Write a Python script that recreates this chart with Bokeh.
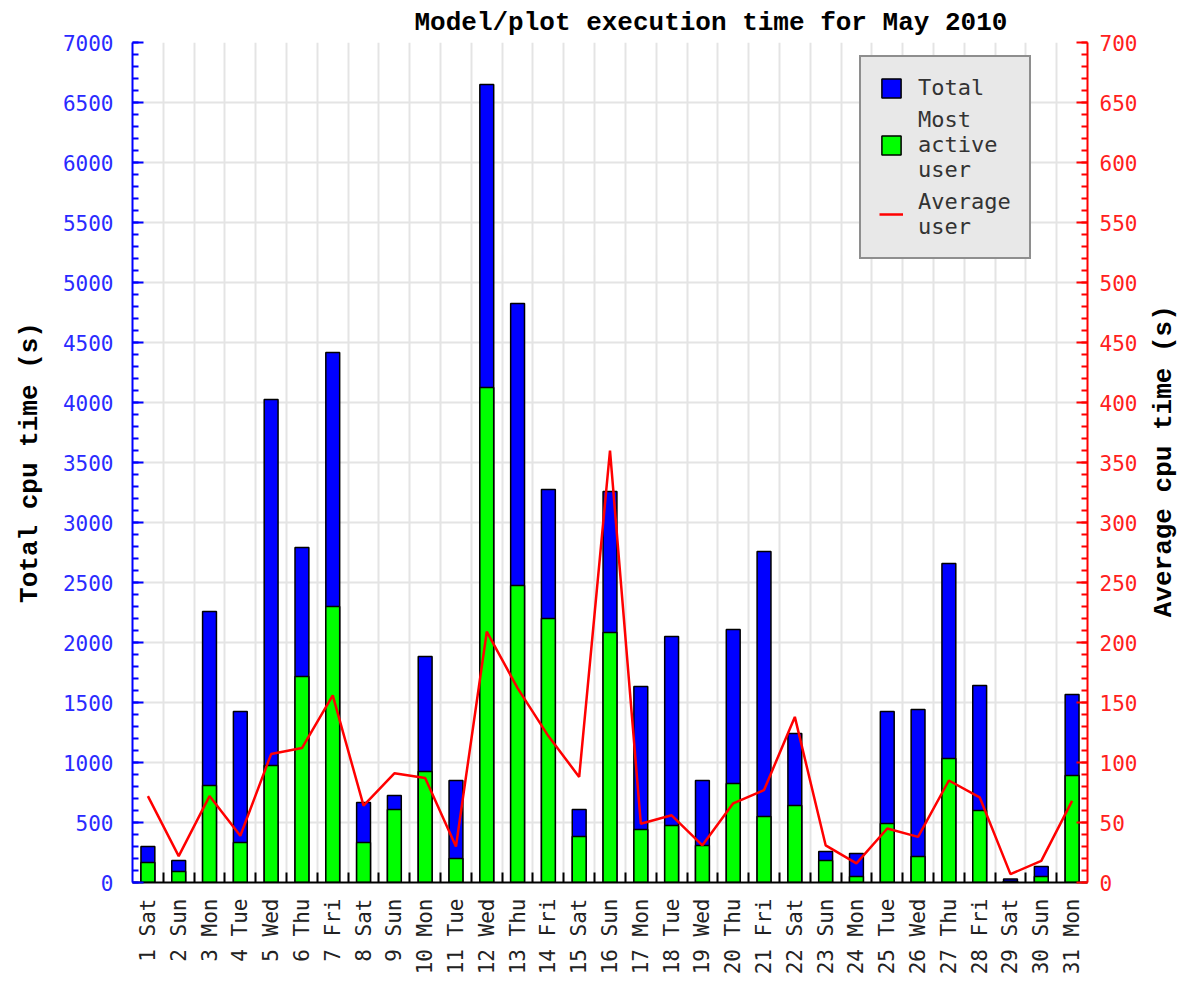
import math
from bokeh.plotting import figure
from bokeh.models import (LinearAxis, Range1d, FixedTicker, SingleIntervalTicker,
                          ColumnDataSource, Legend, LegendItem)
from bokeh.embed import file_html
from bokeh.resources import INLINE

# ---- data ----
days = list(range(1, 32))
day_labels = ["1 Sat", "2 Sun", "3 Mon", "4 Tue", "5 Wed", "6 Thu", "7 Fri",
              "8 Sat", "9 Sun", "10 Mon", "11 Tue", "12 Wed", "13 Thu", "14 Fri",
              "15 Sat", "16 Sun", "17 Mon", "18 Tue", "19 Wed", "20 Thu", "21 Fri",
              "22 Sat", "23 Sun", "24 Mon", "25 Tue", "26 Wed", "27 Thu", "28 Fri",
              "29 Sat", "30 Sun", "31 Mon"]
total = [300, 183, 2258, 1425, 4025, 2792, 4417, 667, 725, 1883, 850, 6650, 4825, 3275,
         608, 3258, 1633, 2050, 850, 2108, 2758, 1242, 258, 242, 1425, 1442, 2658, 1642,
         30, 133, 1567]
most_active = [167, 92, 808, 333, 975, 1717, 2300, 333, 608, 925, 200, 4125, 2475, 2200,
               383, 2083, 442, 475, 308, 825, 550, 642, 183, 50, 492, 217, 1033, 600,
               10, 50, 892]
average = [72, 22, 72, 39, 107, 112, 156, 64, 91, 87, 30, 209, 162, 122, 88, 360, 49, 56,
           31, 66, 77, 138, 31, 16, 45, 38, 85, 71, 7, 18, 68]

src = ColumnDataSource(dict(x=days, total=total, most=most_active, avg=average))

MONO = "DejaVu Sans Mono"
TITLEF = "Liberation Mono"
FW, FH = 955, 840

p = figure(width=1182, height=974, frame_width=FW, frame_height=FH,
           x_range=Range1d(0.5, 31.5), y_range=Range1d(0, 7000),
           output_backend="svg", toolbar_location=None,
           min_border_left=132, min_border_top=42, min_border_right=95, min_border_bottom=92)
p.extra_y_ranges = {"avg": Range1d(0, 700)}
p.outline_line_color = None
p.background_fill_color = "white"
p.border_fill_color = "white"

# title
p.title.text = "Model/plot execution time for May 2010"
p.title.align = "left"
p.title.offset = 282
p.title.text_font = TITLEF
p.title.text_font_size = "26px"
p.title.text_font_style = "bold"
p.title.text_color = "black"
p.title.standoff = 10

# grids
p.ygrid.ticker = SingleIntervalTicker(interval=500)
p.ygrid.grid_line_color = "#e4e4e4"
p.ygrid.grid_line_width = 2
p.xgrid.ticker = FixedTicker(ticks=[d + 0.5 for d in days[:-1]])
p.xgrid.grid_line_color = "#e4e4e4"
p.xgrid.grid_line_width = 2

# bars
r_total = p.vbar(x="x", top="total", bottom=0, width=0.45, source=src,
                 fill_color="#0000ff", line_color="black", line_width=1.5)
r_most = p.vbar(x="x", top="most", bottom=0, width=0.45, source=src,
                fill_color="#00ff00", line_color="black", line_width=1.5)
r_line = p.line(x="x", y="avg", source=src, y_range_name="avg",
                line_color="#ff0000", line_width=2.5)

# x axis
xa = p.xaxis[0]
xa.ticker = FixedTicker(ticks=days, minor_ticks=[d + 0.5 for d in days[:-1]])
xa.major_label_overrides = {d: lab for d, lab in zip(days, day_labels)}
xa.major_label_orientation = math.pi / 2
xa.major_label_text_font = MONO
xa.major_label_text_font_size = "21px"
xa.major_label_text_color = "#222222"
xa.major_label_standoff = 10
xa.major_tick_line_color = None
xa.minor_tick_line_color = "black"
xa.minor_tick_line_width = 2
xa.minor_tick_in = 10
xa.minor_tick_out = 0
xa.axis_line_color = "black"
xa.axis_line_width = 2

# left axis
ya = p.yaxis[0]
ya.ticker = SingleIntervalTicker(interval=500, num_minor_ticks=5)
ya.axis_label = "Total cpu time (s)"
ya.axis_label_text_font = TITLEF
ya.axis_label_text_font_size = "26px"
ya.axis_label_text_font_style = "bold"
ya.axis_label_text_color = "black"
ya.axis_label_standoff = 15
ya.major_label_text_font = MONO
ya.major_label_text_font_size = "21px"
ya.major_label_text_color = "#2a2aff"
ya.major_label_standoff = 19
ya.axis_line_color = "#0000ff"
ya.axis_line_width = 2
ya.major_tick_line_color = "#0000ff"
ya.major_tick_line_width = 2
ya.major_tick_in = 11
ya.major_tick_out = 0
ya.minor_tick_line_color = "#0000ff"
ya.minor_tick_line_width = 2
ya.minor_tick_in = 6
ya.minor_tick_out = 0

# right axis (title reads bottom-to-top like the left one)
ra = LinearAxis(y_range_name="avg",
                ticker=SingleIntervalTicker(interval=50, num_minor_ticks=5))
ra.axis_label = "\u00a0" * 17 + "Average cpu time (s)"
ra.axis_label_text_font = TITLEF
ra.axis_label_text_font_size = "26px"
ra.axis_label_text_font_style = "bold"
ra.axis_label_text_color = "black"
ra.axis_label_standoff = 24
ra.axis_label_orientation = math.pi / 2
ra.axis_label_align = "start"
ra.major_label_text_font = MONO
ra.major_label_text_font_size = "21px"
ra.major_label_text_color = "#ff2020"
ra.major_label_standoff = 12
ra.axis_line_color = "#ff0000"
ra.axis_line_width = 2
ra.major_tick_line_color = "#ff0000"
ra.major_tick_line_width = 2
ra.major_tick_in = 11
ra.major_tick_out = 0
ra.minor_tick_line_color = "#ff0000"
ra.minor_tick_line_width = 2
ra.minor_tick_in = 6
ra.minor_tick_out = 0
p.add_layout(ra, "right")

# legend
legend = Legend(items=[
    LegendItem(label="Total", renderers=[r_total]),
    LegendItem(label="Most\nactive\nuser", renderers=[r_most]),
    LegendItem(label="Average\nuser", renderers=[r_line]),
], location=(727, 623))
legend.background_fill_color = "#e8e8e8"
legend.background_fill_alpha = 1.0
legend.border_line_color = "#333333"
legend.border_line_width = 2
legend.label_text_font = MONO
legend.label_text_font_size = "22px"
legend.label_text_color = "#333333"
legend.label_text_line_height = 1.35
legend.glyph_width = 24
legend.glyph_height = 24
legend.label_standoff = 15
legend.padding = 18
legend.spacing = 7
legend.margin = 0
p.add_layout(legend, "center")

open("out.html", "w").write(file_html(p, INLINE))
